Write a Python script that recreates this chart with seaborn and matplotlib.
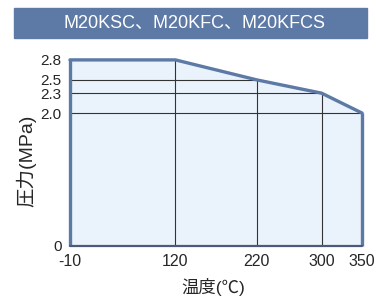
import matplotlib
matplotlib.use("Agg")
import matplotlib.pyplot as plt
import seaborn as sns
import pandas as pd
from matplotlib.patches import Rectangle

# ---------- DATA ----------
temps = [-10, 120, 220, 300, 350]
pressure = [2.8, 2.8, 2.5, 2.3, 2.0]
x_ticks = [-10, 120, 220, 300, 350]
y_ticks = [0, 2.0, 2.3, 2.5, 2.8]
y_ticklabels = ["0", "2.0", "2.3", "2.5", "2.8"]
title = "M20KSC、M20KFC、M20KFCS"
xlabel = "温度(℃)"
ylabel = "圧力(MPa)"

BLUE = "#5d79a6"
FILL = "#eaf2fb"

sns.set_style("white")
plt.rcParams["font.family"] = ["Liberation Sans", "Noto Sans CJK JP", "DejaVu Sans"]

df = pd.DataFrame({"temp": temps, "pressure": pressure})

fig = plt.figure(figsize=(3.76, 2.98), dpi=100)
ax = fig.add_axes([0.186, 0.1745, 0.777, 0.6245])

# area under curve
ax.fill_between(df["temp"], 0, df["pressure"], color=FILL, zorder=1)

# inner grid lines
ax.vlines(temps[1:4], 0, pressure[1:4], color="#333333", lw=0.8, zorder=2)
ax.hlines(pressure[2:], temps[0], temps[2:], color="#333333", lw=0.8, zorder=2)

# outline
sns.lineplot(data=df, x="temp", y="pressure", color=BLUE, lw=2.4,
             ax=ax, zorder=3, clip_on=False)
ax.plot([temps[0], temps[0]], [0, pressure[0]], color=BLUE, lw=2.4,
        zorder=3, clip_on=False, solid_capstyle="butt")
ax.plot([temps[-1], temps[-1]], [0, pressure[-1]], color=BLUE, lw=2.4,
        zorder=3, clip_on=False, solid_capstyle="butt")
ax.plot([temps[0], temps[-1]], [0, 0], color="#4a5a78", lw=1.6,
        zorder=4, clip_on=False)

ax.set_xlim(temps[0], temps[-1])
ax.set_ylim(0, 2.8)
for s in ax.spines.values():
    s.set_visible(False)

ax.set_xticks(x_ticks)
ax.set_xticklabels([str(t) for t in x_ticks], fontsize=11.5)
ax.set_yticks(y_ticks)
ax.set_yticklabels(y_ticklabels, fontsize=11)
ax.tick_params(axis="x", length=0, pad=6)
ax.tick_params(axis="y", length=0, pad=6)

ax.set_xlabel(xlabel, fontsize=12.5, va="center")
ax.xaxis.set_label_coords(0.49, -0.22)
ax.set_ylabel(ylabel, fontsize=14, va="center")
ax.yaxis.set_label_coords(-0.151, 0.457)

# title banner
fig.patches.append(Rectangle((14 / 376, 1 - 38 / 298), 353 / 376, 30 / 298,
                             transform=fig.transFigure, color=BLUE, zorder=0))
fig.text(195 / 376, 1 - 23 / 298, title, color="white", fontsize=13,
         ha="center", va="center")

fig.savefig("out.png", dpi=100)
